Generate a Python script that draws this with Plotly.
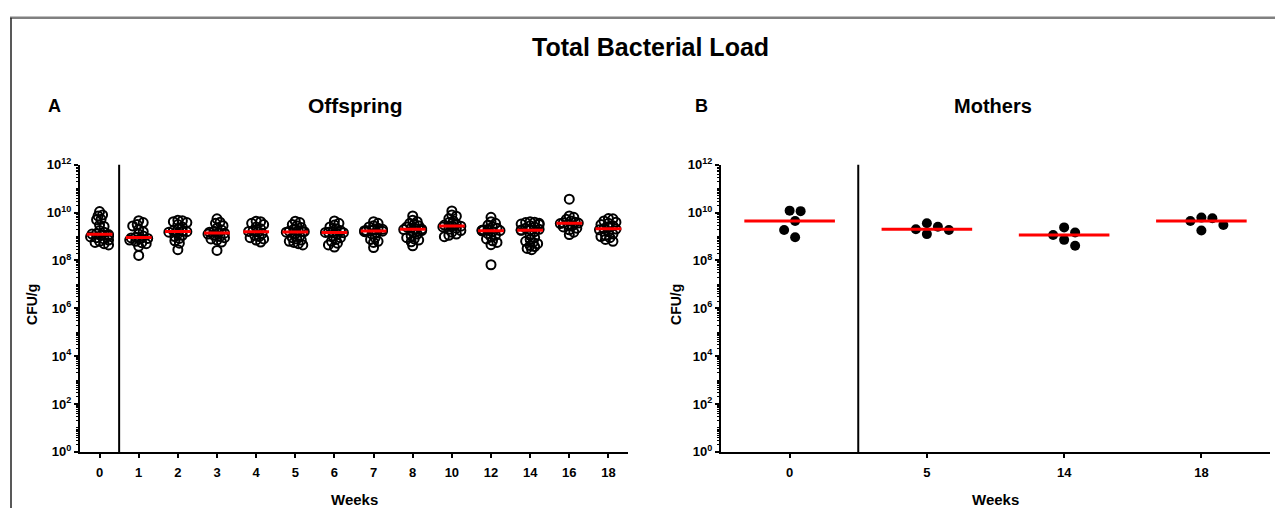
import numpy as np
import plotly.graph_objects as go

# ---------------- data (log10 CFU/g) ----------------
offspring_weeks = ["0", "1", "2", "3", "4", "5", "6", "7", "8", "10", "12", "14", "16", "18"]

off_w0 = [10.04, 9.90, 9.86, 9.72, 9.70, 9.48, 9.42, 9.25, 9.18, 9.12, 9.10, 9.08, 9.05, 9.02,
          8.98, 8.95, 8.90, 8.85, 8.80, 8.75, 8.70, 8.65]
off_w1 = [9.66, 9.58, 9.50, 9.44, 9.30, 9.20, 9.10, 9.02, 8.97, 8.94, 8.92, 8.90, 8.85, 8.80,
          8.74, 8.70, 8.59, 8.21]
off_w2 = [9.68, 9.66, 9.62, 9.58, 9.50, 9.40, 9.32, 9.25, 9.22, 9.20, 9.18, 9.12, 9.05, 9.00,
          8.92, 8.82, 8.72, 8.45]
off_w3 = [9.74, 9.60, 9.55, 9.45, 9.35, 9.28, 9.22, 9.18, 9.16, 9.14, 9.10, 9.05, 9.00, 8.95,
          8.90, 8.85, 8.77, 8.42]
off_w4 = [9.64, 9.62, 9.55, 9.50, 9.40, 9.32, 9.25, 9.21, 9.19, 9.12, 9.05, 9.00, 8.95, 8.90,
          8.85, 8.77]
off_w5 = [9.64, 9.58, 9.50, 9.45, 9.38, 9.30, 9.25, 9.22, 9.20, 9.20, 9.18, 9.10, 9.02, 8.95,
          8.90, 8.85, 8.80, 8.75, 8.70, 8.65]
off_w6 = [9.65, 9.55, 9.48, 9.40, 9.32, 9.25, 9.20, 9.18, 9.17, 9.16, 9.10, 9.02, 8.95, 8.88,
          8.80, 8.72, 8.65, 8.56]
off_w7 = [9.62, 9.55, 9.45, 9.40, 9.35, 9.30, 9.27, 9.25, 9.24, 9.22, 9.20, 9.15, 9.10, 8.95,
          8.88, 8.80, 8.75, 8.54]
off_w8 = [9.86, 9.68, 9.62, 9.55, 9.50, 9.45, 9.40, 9.35, 9.32, 9.31, 9.29, 9.25, 9.18, 9.10,
          9.02, 8.95, 8.90, 8.85, 8.78, 8.61]
off_w10 = [10.07, 9.90, 9.85, 9.75, 9.65, 9.58, 9.52, 9.48, 9.45, 9.43, 9.40, 9.35, 9.30, 9.25,
           9.18, 9.10, 9.05, 8.99]
off_w12 = [9.80, 9.62, 9.55, 9.48, 9.40, 9.35, 9.30, 9.27, 9.26, 9.25, 9.24, 9.20, 9.12, 9.05,
           8.98, 8.90, 8.82, 8.75, 8.66, 7.82]
off_w14 = [9.62, 9.60, 9.58, 9.55, 9.52, 9.50, 9.45, 9.40, 9.35, 9.30, 9.28, 9.27, 9.26, 9.20,
           9.05, 8.95, 8.88, 8.80, 8.75, 8.70, 8.62, 8.58, 8.50, 8.45]
off_w16 = [10.56, 9.86, 9.80, 9.72, 9.65, 9.60, 9.57, 9.56, 9.54, 9.50, 9.45, 9.40, 9.35, 9.28,
           9.18, 9.08]
off_w18 = [9.75, 9.74, 9.65, 9.60, 9.55, 9.50, 9.45, 9.38, 9.33, 9.31, 9.28, 9.20, 9.10, 9.05,
           9.00, 8.95, 8.88, 8.80]
offspring = [off_w0, off_w1, off_w2, off_w3, off_w4, off_w5, off_w6, off_w7, off_w8,
             off_w10, off_w12, off_w14, off_w16, off_w18]

mother_weeks = ["0", "5", "14", "18"]
mom_w0 = [10.08, 10.06, 9.65, 9.27, 8.97]
mom_w5 = [9.55, 9.30, 9.10, 9.27, 9.41]
mom_w14 = [9.38, 9.06, 9.17, 8.86, 8.61]
mom_w18 = [9.65, 9.79, 9.76, 9.48, 9.25]
mothers = [mom_w0, mom_w5, mom_w14, mom_w18]

y_tick_exponents = [0, 2, 4, 6, 8, 10, 12]

# ---------------- layout geometry ----------------
W, H = 1275, 516
L_X0, L_X1 = 80, 628
R_X0, R_X1 = 721, 1270
Y_TOP, Y_BOT = 161, 458
PX_PER_DEC = (Y_BOT - Y_TOP) / 12.0
FONT = "Liberation Sans, Arial, Helvetica, sans-serif"
RED = "#ff0000"


def swarm(logs, px_per_cat, diam, step, max_off):
    """simple beeswarm: horizontal offsets (in category units) avoiding overlap"""
    ys = np.asarray(logs) * PX_PER_DEC
    order = np.argsort(-ys)
    placed = []
    offs = np.zeros(len(ys))
    for i in order:
        y = ys[i]
        k = 0
        while True:
            cands = [0.0] if k == 0 else [k * step, -k * step]
            ok = None
            for c in cands:
                if all((c - px) ** 2 + (y - py) ** 2 >= diam ** 2 for px, py in placed):
                    ok = c
                    break
            if ok is not None or k * step >= max_off:
                best = ok if ok is not None else (k * step if (len(placed) % 2) else -k * step)
                break
            k += 1
        placed.append((best, y))
        offs[i] = best
    return offs / px_per_cat


fig = go.Figure()

lp = (L_X1 - L_X0) / len(offspring_weeks)
for i, vals in enumerate(offspring):
    off = swarm(vals, lp, 4.2, 1.5, 9)
    fig.add_trace(go.Scatter(
        x=i + off, y=[10 ** v for v in vals], mode="markers", xaxis="x", yaxis="y",
        marker=dict(symbol="circle-open", size=9, color="black", line=dict(width=2, color="black")),
        showlegend=False, hoverinfo="skip"))
    med = 10 ** float(np.median(vals))
    fig.add_trace(go.Scatter(
        x=[i - 0.33, i + 0.33], y=[med, med], mode="lines", xaxis="x", yaxis="y",
        line=dict(color=RED, width=3), showlegend=False, hoverinfo="skip"))

rp = (R_X1 - R_X0) / len(mother_weeks)
for i, vals in enumerate(mothers):
    off = swarm(vals, rp, 11, 5.5, 30)
    fig.add_trace(go.Scatter(
        x=i + off, y=[10 ** v for v in vals], mode="markers", xaxis="x2", yaxis="y2",
        marker=dict(symbol="circle", size=10, color="black"),
        showlegend=False, hoverinfo="skip"))
    med = 10 ** float(np.median(vals))
    fig.add_trace(go.Scatter(
        x=[i - 0.33, i + 0.33], y=[med, med], mode="lines", xaxis="x2", yaxis="y2",
        line=dict(color=RED, width=3), showlegend=False, hoverinfo="skip"))

ytickvals = [10 ** e for e in y_tick_exponents]
yticktext = ["10<sup>%d</sup>" % e for e in y_tick_exponents]

common_x = dict(showgrid=False, zeroline=False, showline=True, linecolor="black", linewidth=2,
                ticks="outside", ticklen=4, tickwidth=2, tickcolor="black", ticklabelstandoff=3,
                tickfont=dict(family=FONT, size=13, color="black", weight="bold"))
common_y = dict(type="log", range=[0, 12], showgrid=False, zeroline=False, showline=True,
                linecolor="black", linewidth=2, ticks="outside", ticklen=4, tickwidth=2,
                tickcolor="black", tickvals=ytickvals, ticktext=yticktext,
                tickfont=dict(family=FONT, size=13, color="black", weight="bold"),
                minor=dict(ticks="outside", ticklen=2, tickwidth=1, tickcolor="black",
                           dtick="D1", showgrid=False))

fig.update_layout(
    autosize=True, margin=dict(l=0, r=0, t=0, b=0),
    paper_bgcolor="white", plot_bgcolor="white",
    xaxis=dict(domain=[L_X0 / W, L_X1 / W], range=[-0.5, len(offspring_weeks) - 0.5],
               tickvals=list(range(len(offspring_weeks))), ticktext=offspring_weeks,
               anchor="y", **common_x),
    yaxis=dict(domain=[1 - Y_BOT / H, 1 - Y_TOP / H], anchor="x", **common_y),
    xaxis2=dict(domain=[R_X0 / W, R_X1 / W], range=[-0.5, len(mother_weeks) - 0.5],
                tickvals=list(range(len(mother_weeks))), ticktext=mother_weeks,
                anchor="y2", **common_x),
    yaxis2=dict(domain=[1 - Y_BOT / H, 1 - Y_TOP / H], anchor="x2", **common_y),
)


def ann(text, x, y, size, angle=0):
    fig.add_annotation(text=text, x=x / W, y=1 - y / H, xref="paper", yref="paper",
                       showarrow=False, textangle=angle, xanchor="center", yanchor="middle",
                       font=dict(family=FONT, size=size, color="black", weight="bold"))


ann("Total Bacterial Load", 650, 39, 25)
ann("A", 54, 100, 18)
ann("Offspring", 355, 100, 21)
ann("B", 701, 100, 18)
ann("Mothers", 993, 100, 20)
ann("CFU/g", 32, 306, 14, -90)
ann("CFU/g", 676, 306, 14, -90)
ann("Weeks", 354, 507, 15)
ann("Weeks", 995, 507, 15)

# separators between week 0 and the later weeks
fig.add_shape(type="line", xref="x", yref="y domain", x0=0.5, x1=0.5, y0=0, y1=1,
              line=dict(color="black", width=2))
fig.add_shape(type="line", xref="x2", yref="y2 domain", x0=0.5, x1=0.5, y0=0, y1=1,
              line=dict(color="black", width=2))
# figure frame lines
fig.add_shape(type="line", xref="paper", yref="paper", x0=10 / W, x1=1, y0=1 - 9 / H, y1=1 - 9 / H,
              line=dict(color="#808080", width=2.5))
fig.add_shape(type="line", xref="paper", yref="paper", x0=11 / W, x1=11 / W, y0=0, y1=1 - 9 / H,
              line=dict(color="#222222", width=1.5))

post = ("document.documentElement.style.margin='0px';document.body.style.margin='0px';"
        "document.documentElement.style.overflow='hidden';document.body.style.overflow='hidden';"
        "var gd=document.getElementById('{plot_id}');gd.style.width='100vw';gd.style.height='100vh';"
        "Plotly.Plots.resize(gd);")
fig.write_html("out.html", default_width="100vw", default_height="100vh",
               config={"displayModeBar": False, "responsive": True},
               post_script=post)
